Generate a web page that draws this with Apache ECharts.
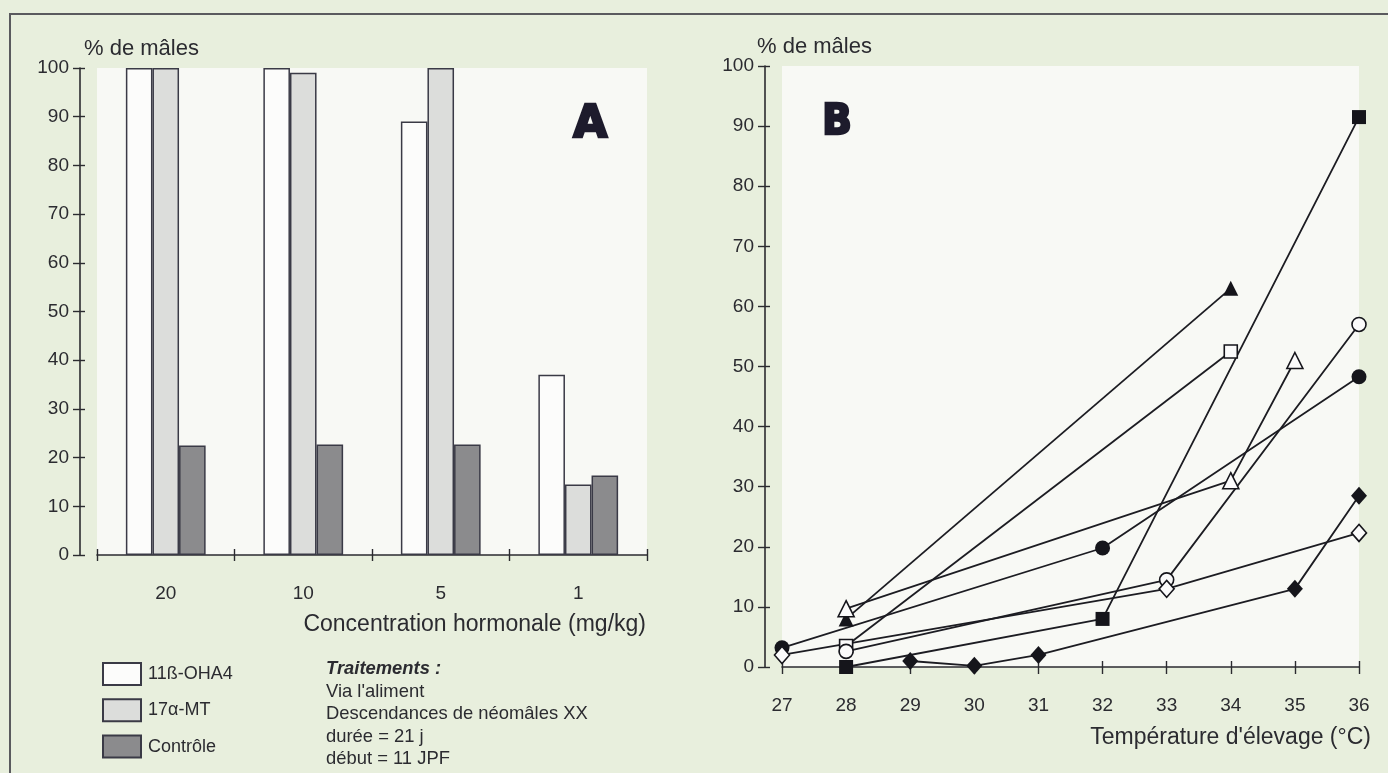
<!DOCTYPE html>
<html>
<head>
<meta charset="utf-8">
<script src="https://cdn.jsdelivr.net/npm/echarts@6/dist/echarts.min.js"></script>
<style>
    html, body {margin: 0; padding: 0; background: #e8efdd;}
    #main {width: 1388px; height: 773px;}
</style>
</head>
<body>
<div id="main"></div>
<script>
// panel A : bars
const concentrations = ['20', '10', '5', '1'];
const ohA4 = [100, 100, 89, 37];
const mt17 = [100, 99, 100, 14.5];
const controle = [22.5, 22.7, 22.7, 16.3];

// panel B : temperature series (x = °C, y = % males)
const triFilledT = [28, 34];
const triFilledV = [8, 63];
const rectOpenT = [28, 34];
const rectOpenV = [3.5, 52.5];
const rectFilledT = [28, 32, 36];
const rectFilledV = [0, 8, 91.5];
const circOpenT = [28, 33, 36];
const circOpenV = [2.6, 14.5, 57];
const triOpenT = [28, 34, 35];
const triOpenV = [9.7, 31, 51];
const circFilledT = [27, 32, 36];
const circFilledV = [3.2, 19.8, 48.3];
const diaOpenT = [27, 33, 36];
const diaOpenV = [2, 13, 22.3];
const diaFilledT = [29, 30, 31, 35, 36];
const diaFilledV = [1, 0.2, 2, 13, 28.5];

const yTicks = [0, 100, 10];
const tempTicks = [27, 36, 1];

const FONT = '"Liberation Sans", Arial, sans-serif';
const INK = '#2b2b30';
const BAR_EDGE = '#3a3a46';

const chart = echarts.init(document.getElementById('main'));

const zip = (xs, ys) => xs.map((x, i) => [x, ys[i]]);

const axisFont = {color: INK, fontFamily: FONT, fontSize: 19};

// two axes on the same spot so the ticks cross the axis line
const yAxisPair = (gridIndex, offset) => [
    {
        type: 'value', gridIndex: gridIndex, position: 'left', min: yTicks[0], max: yTicks[1], interval: yTicks[2],
        offset: offset,
        axisLine: {show: true, lineStyle: {color: INK, width: 1.6}},
        axisTick: {show: true, length: 7, lineStyle: {color: INK, width: 1.4}},
        axisLabel: Object.assign({margin: 11}, axisFont),
        splitLine: {show: false}
    },
    {
        type: 'value', gridIndex: gridIndex, position: 'left', min: yTicks[0], max: yTicks[1], interval: yTicks[2],
        offset: offset,
        axisLine: {show: false},
        axisTick: {show: true, inside: true, length: 5, lineStyle: {color: INK, width: 1.4}},
        axisLabel: {show: false},
        splitLine: {show: false}
    }
];

const lineSeries = (data, symbol, filled, size) => ({
    type: 'line',
    xAxisIndex: 2,
    yAxisIndex: 2,
    data: data,
    symbol: symbol,
    symbolSize: size,
    showSymbol: true,
    clip: false,
    z: filled ? 4 : 5,
    lineStyle: {color: '#1c1c22', width: 1.8},
    itemStyle: {
        color: filled ? '#15151b' : '#fbfbfb',
        borderColor: '#15151b',
        borderWidth: filled ? 0 : 1.6
    },
    emphasis: {disabled: true}
});

let option = {
    animation: false,
    backgroundColor: '#e8efdd',
    textStyle: {fontFamily: FONT},
    grid: [
        {left: 97, top: 68, width: 550, height: 487, show: true, backgroundColor: '#f8f9f5', borderWidth: 0},
        {left: 782, top: 66, width: 577, height: 601, show: true, backgroundColor: '#f8f9f5', borderWidth: 0}
    ],
    xAxis: [
        {
            type: 'category', gridIndex: 0, position: 'bottom', data: concentrations, offset: 16,
            axisLine: {show: true, lineStyle: {color: INK, width: 1.6}},
            axisTick: {show: true, length: 6, lineStyle: {color: INK, width: 1.4}},
            axisLabel: Object.assign({margin: 13}, axisFont)
        },
        {
            type: 'category', gridIndex: 0, position: 'bottom', data: concentrations, offset: 16,
            axisLine: {show: false},
            axisTick: {show: true, inside: true, length: 6, lineStyle: {color: INK, width: 1.4}},
            axisLabel: {show: false}
        },
        {
            type: 'value', gridIndex: 1, position: 'bottom', min: tempTicks[0], max: tempTicks[1], interval: tempTicks[2], offset: 16,
            axisLine: {show: true, lineStyle: {color: INK, width: 1.6}},
            axisTick: {show: true, length: 7, lineStyle: {color: INK, width: 1.4}},
            axisLabel: Object.assign({margin: 13}, axisFont),
            splitLine: {show: false}
        },
        {
            type: 'value', gridIndex: 1, position: 'bottom', min: tempTicks[0], max: tempTicks[1], interval: tempTicks[2], offset: 16,
            axisLine: {show: false},
            axisTick: {show: true, inside: true, length: 6, lineStyle: {color: INK, width: 1.4}},
            axisLabel: {show: false},
            splitLine: {show: false}
        }
    ],
    yAxis: yAxisPair(0, 17).concat(yAxisPair(1, 17)),
    legend: {
        orient: 'vertical',
        left: 97,
        top: 657,
        itemWidth: 38,
        itemHeight: 22,
        itemGap: 12.3,
        selectedMode: false,
        icon: 'rect',
        data: ['11ß-OHA4', '17α-MT', 'Contrôle'],
        textStyle: {color: INK, fontFamily: FONT, fontSize: 18, padding: [0, 0, 0, 2]}
    },
    series: [
        {
            name: '11ß-OHA4', type: 'bar', xAxisIndex: 0, yAxisIndex: 0, data: ohA4,
            barGap: '0%', barCategoryGap: '42%',
            itemStyle: {color: '#fcfcfb', borderColor: BAR_EDGE, borderWidth: 1.5}
        },
        {
            name: '17α-MT', type: 'bar', xAxisIndex: 0, yAxisIndex: 0, data: mt17,
            barGap: '0%', barCategoryGap: '42%',
            itemStyle: {color: '#dcdddb', borderColor: BAR_EDGE, borderWidth: 1.5}
        },
        {
            name: 'Contrôle', type: 'bar', xAxisIndex: 0, yAxisIndex: 0, data: controle,
            barGap: '0%', barCategoryGap: '42%',
            itemStyle: {color: '#8b8b8d', borderColor: BAR_EDGE, borderWidth: 1.5}
        },
        lineSeries(zip(triFilledT, triFilledV), 'triangle', true, 15),
        lineSeries(zip(rectOpenT, rectOpenV), 'rect', false, 13),
        lineSeries(zip(rectFilledT, rectFilledV), 'rect', true, 14),
        lineSeries(zip(circOpenT, circOpenV), 'circle', false, 14),
        lineSeries(zip(triOpenT, triOpenV), 'triangle', false, 16),
        lineSeries(zip(circFilledT, circFilledV), 'circle', true, 15),
        lineSeries(zip(diaOpenT, diaOpenV), 'diamond', false, [15, 17]),
        lineSeries(zip(diaFilledT, diaFilledV), 'diamond', true, [16, 18])
    ],
    graphic: [
        {type: 'polyline', shape: {points: [[10, 773], [10, 14], [1388, 14]]}, style: {stroke: '#5a5a5e', lineWidth: 2, fill: null}, silent: true},
        {type: 'text', left: 84, top: 38, style: {text: '% de mâles', fill: INK, font: '22px ' + FONT}},
        {type: 'text', left: 757, top: 36, style: {text: '% de mâles', fill: INK, font: '22px ' + FONT}},
        {type: 'text', left: 572, top: 102, style: {text: 'A', fill: '#1d1b2c', stroke: '#1d1b2c', lineWidth: 2.5, font: 'bold 44px "DejaVu Sans"'}},
        {type: 'text', left: 821, top: 100, style: {text: 'B', fill: '#1d1b2c', stroke: '#1d1b2c', lineWidth: 2.5, font: 'bold 43px "DejaVu Sans Condensed", "DejaVu Sans"'}},
        {type: 'text', right: 1388 - 646, top: 613, style: {text: 'Concentration hormonale (mg/kg)', fill: INK, font: '23px ' + FONT}},
        {type: 'text', right: 1388 - 1371, top: 726, style: {text: "Température d'élevage (°C)", fill: INK, font: '23px ' + FONT}},
        {
            type: 'text', left: 326, top: 658,
            style: {
                text: '{b|Traitements :}\nVia l\'aliment\nDescendances de néomâles XX\ndurée = 21 j\ndébut = 11 JPF',
                fill: INK, font: '18.4px ' + FONT, lineHeight: 22.5,
                rich: {b: {fontWeight: 'bold', fontStyle: 'italic', fontSize: 18.4, fontFamily: FONT, fill: INK, lineHeight: 22.5}}
            }
        }
    ]
};

chart.setOption(option);
</script>
</body>
</html>
